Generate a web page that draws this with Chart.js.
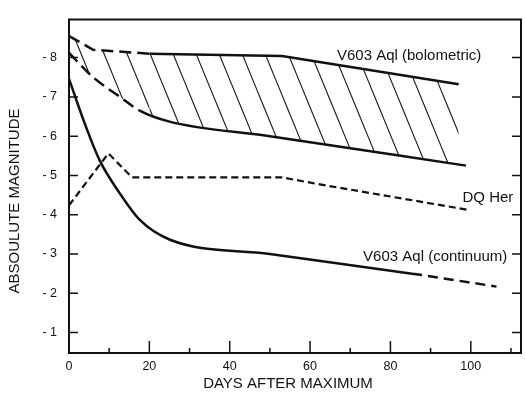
<!DOCTYPE html>
<html>
<head>
<meta charset="utf-8">
<script src="https://cdn.jsdelivr.net/npm/chart.js@4.4.1/dist/chart.umd.min.js"></script>
<style>
  html, body { margin: 0; padding: 0; background: #fff; }
</style>
</head>
<body>
<canvas id="nova-chart" width="525" height="398"></canvas>
<script>
// Light curves: absolute magnitude against days after maximum
var bolUpperDays = [0, 6, 20, 53, 97];
var bolUpperMag  = [-8.55, -8.2, -8.1, -8.04, -7.32];
var bolLowerDays = [0, 6, 12.7, 17.6, 25, 50, 98.8];
var bolLowerMag  = [-8.12, -7.5, -7.0, -6.65, -6.37, -6.0, -5.25];
var dqHerDays = [0, 9.8, 15.7, 53, 62, 99];
var dqHerMag  = [-4.24, -5.56, -4.95, -4.95, -4.78, -4.13];
var contDays = [0, 4, 7.7, 12.6, 17.5, 25, 50, 85.4, 106.4];
var contMag  = [-7.46, -6.3, -5.37, -4.55, -3.88, -3.37, -3.0, -2.5, -2.17];

var xMajorTicks = [0, 20, 40, 60, 80, 100];
var xMinorTicks = [10, 30, 50, 70, 90, 110];
var yTicks = [-1, -2, -3, -4, -5, -6, -7, -8];

var FONT = "'Liberation Sans', Arial, Helvetica, sans-serif";
var INK = "#111";

function toPoints(days, mags) {
    return days.map(function (d, i) { return { x: d, y: mags[i] }; });
}

// dashed while the segment ends at or before `day`
function dashBefore(day, dash) {
    return function (ctx) { return ctx.p1.parsed.x <= day ? dash : undefined; };
}
// dashed once the segment starts at or after `day`
function dashAfter(day, dash) {
    return function (ctx) { return ctx.p0.parsed.x >= day ? dash : undefined; };
}

// diagonal hatching for the bolometric band
function makeHatch() {
    var w = 23, h = 56;
    var c = document.createElement("canvas");
    c.width = w; c.height = h;
    var g = c.getContext("2d");
    g.strokeStyle = INK;
    g.lineWidth = 1.1;
    [-w, 0, w].forEach(function (dx) {
        g.beginPath();
        g.moveTo(13 + dx - w, -h);
        g.lineTo(13 + dx + 2 * w, 2 * h);
        g.stroke();
    });
    return g.createPattern(c, "repeat");
}

var curveLabels = [
    { text: "V603 Aql (bolometric)", day: 66.7, mag: -8.04, align: "left" },
    { text: "DQ Her", day: 110.6, mag: -4.43, align: "right" },
    { text: "V603 Aql (continuum)", day: 73.2, mag: -2.93, align: "left" }
];

var framePlugin = {
    id: "frame",
    afterDraw: function (chart) {
        var ctx = chart.ctx, a = chart.chartArea;
        var xs = chart.scales.x, ys = chart.scales.y;
        ctx.save();
        ctx.strokeStyle = INK;
        ctx.lineWidth = 2;
        ctx.strokeRect(a.left, a.top, a.right - a.left, a.bottom - a.top);

        // inward tick marks
        ctx.lineWidth = 1.5;
        ctx.beginPath();
        xMajorTicks.forEach(function (v) {
            var px = xs.getPixelForValue(v);
            ctx.moveTo(px, a.bottom); ctx.lineTo(px, a.bottom - 12);
        });
        xMinorTicks.forEach(function (v) {
            var px = xs.getPixelForValue(v);
            ctx.moveTo(px, a.bottom); ctx.lineTo(px, a.bottom - 5);
        });
        yTicks.forEach(function (v) {
            var py = ys.getPixelForValue(v);
            ctx.moveTo(a.left, py); ctx.lineTo(a.left + 9, py);
            ctx.moveTo(a.right, py); ctx.lineTo(a.right - 9, py);
        });
        ctx.stroke();

        // curve names
        ctx.fillStyle = INK;
        ctx.font = "15px " + FONT;
        ctx.textBaseline = "middle";
        curveLabels.forEach(function (l) {
            ctx.textAlign = l.align;
            ctx.fillText(l.text, xs.getPixelForValue(l.day), ys.getPixelForValue(l.mag));
        });

        // axis titles
        ctx.textAlign = "center";
        ctx.fillText("DAYS AFTER MAXIMUM", 288, 384);
        ctx.translate(15, 201);
        ctx.rotate(-Math.PI / 2);
        ctx.fillText("ABSOULUTE MAGNITUDE", 0, 0);
        ctx.restore();
    }
};

var ctx = document.getElementById("nova-chart").getContext("2d");

var data = {
    datasets: [
        {
            label: "V603 Aql (bolometric, upper)",
            data: toPoints(bolUpperDays, bolUpperMag),
            borderColor: INK,
            borderWidth: 2.5,
            backgroundColor: makeHatch(),
            fill: 1,
            tension: 0,
            pointRadius: 0,
            segment: { borderDash: dashBefore(20, [12, 6]) }
        },
        {
            label: "V603 Aql (bolometric, lower)",
            data: toPoints(bolLowerDays, bolLowerMag),
            borderColor: INK,
            borderWidth: 2.5,
            fill: false,
            cubicInterpolationMode: "monotone",
            pointRadius: 0,
            segment: { borderDash: dashBefore(17.6, [12, 6]) }
        },
        {
            label: "DQ Her",
            data: toPoints(dqHerDays, dqHerMag),
            borderColor: INK,
            borderWidth: 2.2,
            borderDash: [7, 4],
            fill: false,
            tension: 0,
            pointRadius: 0
        },
        {
            label: "V603 Aql (continuum)",
            data: toPoints(contDays, contMag),
            borderColor: INK,
            borderWidth: 2.5,
            fill: false,
            cubicInterpolationMode: "monotone",
            pointRadius: 0,
            segment: { borderDash: dashAfter(85.4, [10, 6]) }
        }
    ]
};

var options = {
    responsive: false,
    animation: false,
    layout: { padding: { top: 13, right: 4, left: 0, bottom: 0 } },
    plugins: {
        legend: { display: false },
        tooltip: { enabled: false }
    },
    scales: {
        x: {
            type: "linear",
            min: 0,
            max: 112.5,
            afterBuildTicks: function (s) {
                s.ticks = xMajorTicks.map(function (v) { return { value: v }; });
            },
            afterFit: function (s) { s.height = 45; },
            grid: { display: false, drawTicks: false },
            border: { display: false },
            ticks: {
                padding: 6,
                color: INK,
                font: { family: FONT, size: 12.5 }
            }
        },
        y: {
            type: "linear",
            min: -8.97,
            max: -0.48,
            reverse: true,
            afterBuildTicks: function (s) {
                s.ticks = yTicks.map(function (v) { return { value: v }; });
            },
            afterFit: function (s) { s.width = 69; },
            grid: { display: false, drawTicks: false },
            border: { display: false },
            ticks: {
                padding: 12,
                color: INK,
                font: { family: FONT, size: 12.5 },
                callback: function (v) { return "- " + Math.abs(v); }
            }
        }
    }
};

var chart = new Chart(ctx, {
    type: "line",
    data: data,
    options: options,
    plugins: [framePlugin]
});
</script>
</body>
</html>
